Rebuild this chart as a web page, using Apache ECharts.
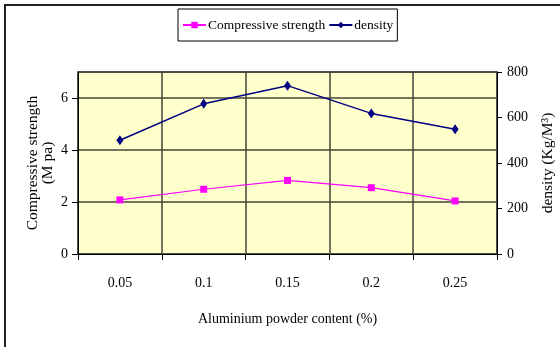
<!DOCTYPE html>
<html>
<head>
<meta charset="utf-8">
<script src="https://cdn.jsdelivr.net/npm/echarts@6/dist/echarts.min.js"></script>
<style>
    html, body { margin: 0; padding: 0; background: #fff; }
    #chart { width: 560px; height: 347px; }
</style>
</head>
<body>
<div id="chart"></div>
<script>
    // data
    let contents = ['0.05', '0.1', '0.15', '0.2', '0.25'];
    let strength = [2.08, 2.49, 2.83, 2.55, 2.04];
    let density = [500, 660, 740, 618, 548];

    let myChart = echarts.init(document.getElementById('chart'));
    let serif = 'Liberation Serif';
    let gridColor = '#45453c';

    let option = {
        backgroundColor: '#fff',
        animation: false,
        textStyle: { fontFamily: serif },
        graphic: [{
            type: 'rect',
            shape: { x: 5, y: 5, width: 560, height: 350 },
            style: { fill: 'none', stroke: '#222', lineWidth: 2 }
        }],
        legend: {
            top: 9,
            left: 178,
            borderColor: '#000',
            borderWidth: 1,
            padding: [9, 4, 9, 4],
            itemGap: 3,
            itemWidth: 23,
            itemHeight: 8,
            textStyle: { fontFamily: serif, fontSize: 13.5, color: '#000', padding: [0, 0, 0, -3] },
            data: ['Compressive strength', 'density']
        },
        grid: {
            left: 78,
            right: 63,
            top: 72,
            bottom: 93,
            outerBoundsMode: 'none',
            show: true,
            backgroundColor: '#ffffcc',
            borderColor: gridColor,
            borderWidth: 1.5
        },
        xAxis: {
            type: 'category',
            data: contents,
            boundaryGap: true,
            name: 'Aluminium powder content (%)',
            nameLocation: 'middle',
            nameGap: 58,
            nameTextStyle: { fontFamily: serif, fontSize: 14, color: '#000' },
            axisLine: { lineStyle: { color: '#000', width: 1 } },
            axisTick: { show: true, length: 6, lineStyle: { color: '#000' } },
            axisLabel: { margin: 22, fontFamily: serif, fontSize: 14, color: '#000' },
            splitLine: { show: true, lineStyle: { color: gridColor, width: 1.5 } }
        },
        yAxis: [{
            type: 'value',
            min: 0,
            max: 7,
            interval: 2,
            name: 'Compressive strength\n(M pa)',
            nameLocation: 'middle',
            nameRotate: 90,
            nameGap: 23,
            nameMoveOverlap: false,
            nameTextStyle: { fontFamily: serif, fontSize: 15.5, color: '#000', lineHeight: 15 },
            axisLine: { show: true, lineStyle: { color: '#000' } },
            axisTick: { show: true, length: 6, lineStyle: { color: '#000' } },
            axisLabel: { margin: 10, fontFamily: serif, fontSize: 14, color: '#000', showMaxLabel: false },
            splitLine: { show: true, lineStyle: { color: gridColor, width: 1.5 } }
        }, {
            type: 'value',
            min: 0,
            max: 800,
            interval: 200,
            position: 'right',
            name: 'density (Kg/M³)',
            nameLocation: 'middle',
            nameRotate: 90,
            nameGap: 43,
            nameMoveOverlap: false,
            nameTextStyle: { fontFamily: serif, fontSize: 15.5, color: '#000' },
            axisLine: { show: true, lineStyle: { color: '#000' } },
            axisTick: { show: true, length: 5, lineStyle: { color: '#000' } },
            axisLabel: { margin: 10, fontFamily: serif, fontSize: 14, color: '#000' },
            splitLine: { show: false }
        }],
        series: [{
            name: 'Compressive strength',
            type: 'line',
            yAxisIndex: 0,
            data: strength,
            symbol: 'rect',
            symbolSize: 7,
            itemStyle: { color: '#ff00ff' },
            lineStyle: { color: '#ff00ff', width: 1.2 }
        }, {
            name: 'density',
            type: 'line',
            yAxisIndex: 1,
            data: density,
            symbol: 'diamond',
            symbolSize: [7, 10],
            itemStyle: { color: '#000080' },
            lineStyle: { color: '#000080', width: 1.5 }
        }]
    };
    myChart.setOption(option);
</script>
</body>
</html>
